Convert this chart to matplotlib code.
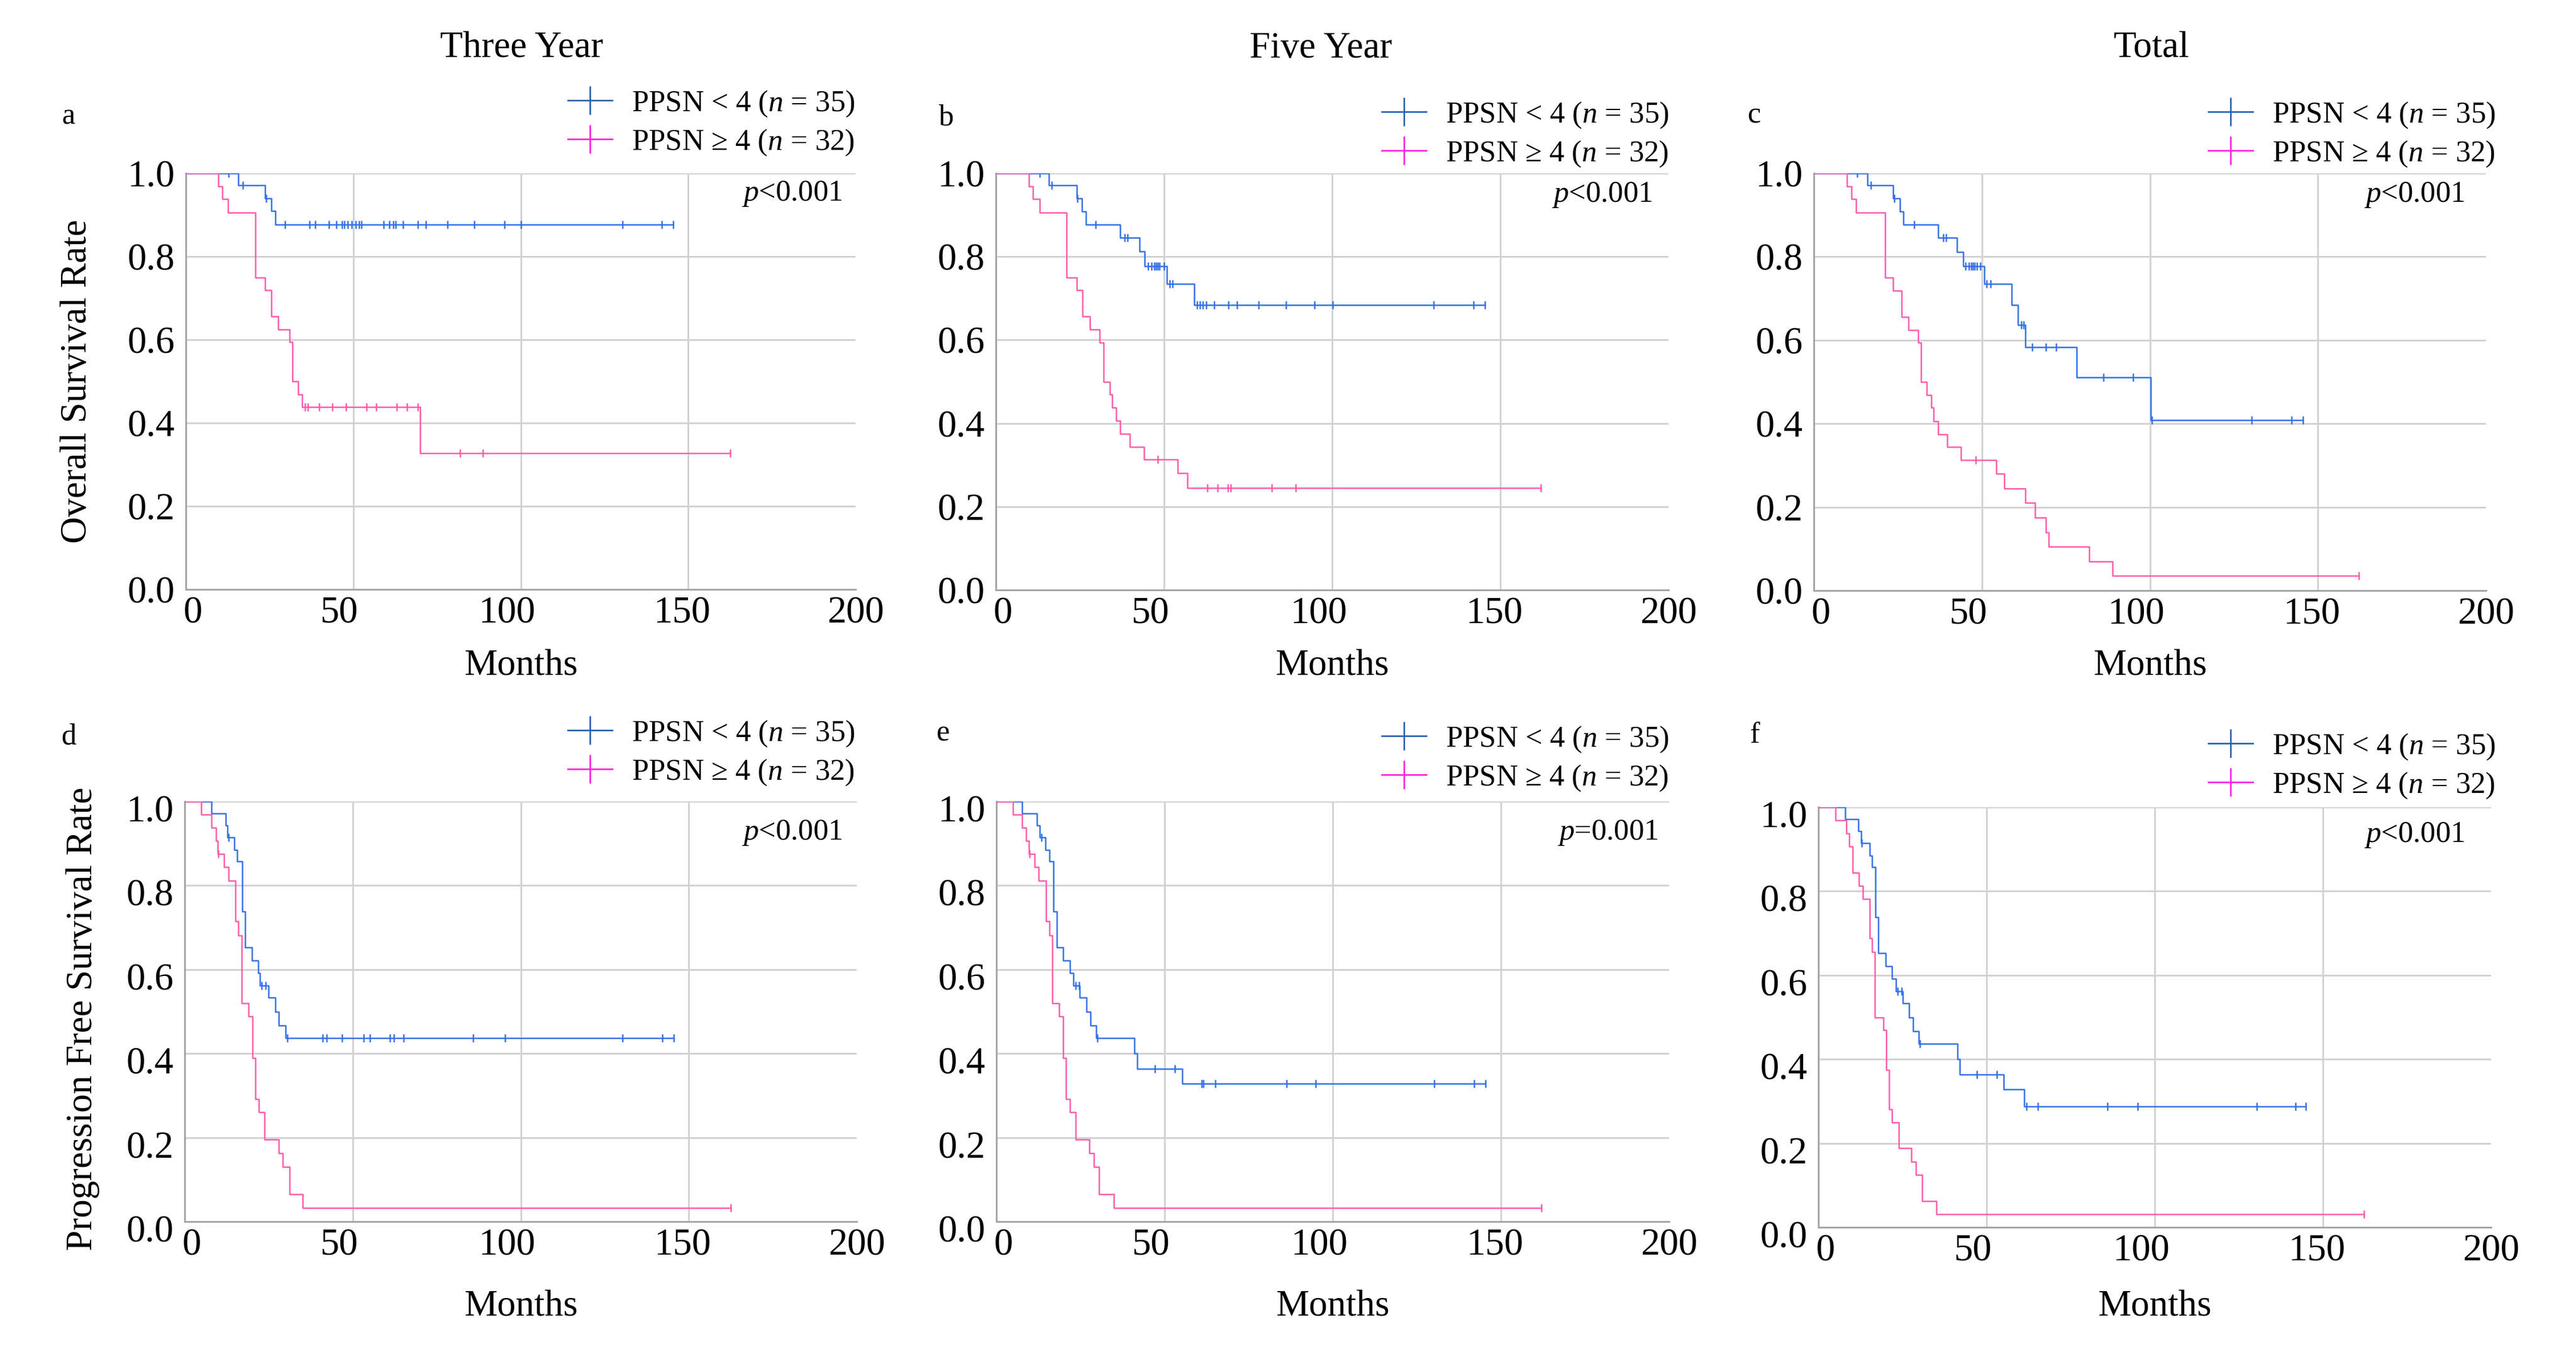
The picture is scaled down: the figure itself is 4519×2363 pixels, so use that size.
import numpy as np
import matplotlib
matplotlib.use("Agg")
import matplotlib.pyplot as plt
import matplotlib.transforms as mtransforms
from matplotlib.lines import Line2D

plt.rcParams["font.family"] = ["Liberation Serif", "DejaVu Serif"]
plt.rcParams["mathtext.fontset"] = "custom"
plt.rcParams["mathtext.it"] = "Liberation Serif:italic"
plt.rcParams["mathtext.rm"] = "Liberation Serif"

# ---- data (months, survival after each drop, censor times)
# a: overall survival, three year
a_lo_t = [15.6, 23.6, 25.5, 26.7]
a_lo_s = [0.971, 0.940, 0.909, 0.877]
a_lo_c = [12.7, 17.0, 24.0, 29.7, 36.9, 38.6, 42.8, 44.9, 46.7, 47.4, 48.3, 49.6, 50.8, 51.8,
          52.5, 59.0, 60.8, 61.9, 62.7, 64.9, 69.2, 71.7, 78.2, 86.2, 95.2, 100.1, 130.3, 142.2, 145.6]
a_hi_t = [9.7, 10.9, 12.6, 20.7, 23.6, 25.5, 27.5, 30.9, 31.8, 33.5, 34.7, 70.0]
a_hi_s = [0.969, 0.938, 0.906, 0.750, 0.719, 0.656, 0.625, 0.594, 0.500, 0.469, 0.438, 0.328]
a_hi_c = [35.5, 36.4, 39.9, 43.7, 47.9, 53.9, 56.9, 62.9, 66.1, 69.2, 81.9, 88.7, 162.6]

# b: overall survival, five year
b_lo_t = [15.8, 24.0, 25.6, 26.7, 37.0, 42.7, 44.3, 50.9, 59.0]
b_lo_s = [0.971, 0.940, 0.909, 0.877, 0.846, 0.812, 0.777, 0.735, 0.684]
b_lo_c = [13.0, 16.6, 24.2, 29.7, 38.3, 39.1, 45.2, 46.3, 47.1, 47.6, 48.1, 48.7, 50.0, 51.7, 52.5,
          59.8, 60.6, 61.6, 62.6, 64.9, 69.1, 71.7, 78.1, 86.2, 94.8, 100.1, 130.2, 142.1, 145.4]
b_hi_t = [9.8, 11.1, 13.0, 21.0, 24.0, 25.8, 28.0, 30.8, 32.1, 33.9, 34.5, 35.7, 37.0, 39.9, 44.0, 54.1, 56.9]
b_hi_s = [0.969, 0.938, 0.906, 0.750, 0.719, 0.656, 0.625, 0.594, 0.500, 0.469, 0.438, 0.406, 0.375,
          0.344, 0.313, 0.280, 0.245]
b_hi_c = [48.1, 62.9, 66.0, 69.0, 69.8, 82.0, 89.2, 162.0]

# c: overall survival, total
c_lo_t = [15.9, 23.6, 25.6, 26.6, 36.9, 42.6, 44.5, 50.7, 58.8, 60.8, 63.0, 78.2, 100.2]
c_lo_s = [0.971, 0.940, 0.909, 0.877, 0.846, 0.812, 0.777, 0.735, 0.684, 0.636, 0.583, 0.511, 0.409]
c_lo_c = [12.9, 17.0, 24.0, 29.9, 38.5, 39.3, 45.1, 46.1, 46.8, 47.3, 47.9, 48.6, 49.6, 51.4, 52.6,
          61.7, 62.5, 65.0, 69.1, 72.1, 86.1, 95.0, 100.6, 130.2, 142.1, 145.5]
c_hi_t = [9.9, 11.2, 12.6, 21.2, 23.6, 26.1, 28.1, 31.1, 31.9, 33.6, 34.9, 35.7, 36.9, 39.7, 43.8,
          54.2, 56.7, 63.0, 65.8, 69.1, 69.9, 82.0, 88.9]
c_hi_s = [0.969, 0.938, 0.906, 0.750, 0.719, 0.656, 0.625, 0.594, 0.500, 0.469, 0.438, 0.406, 0.375,
          0.344, 0.313, 0.280, 0.245, 0.210, 0.175, 0.140, 0.105, 0.070, 0.035]
c_hi_c = [48.1, 162.1]

# d: progression free survival, three year
d_lo_t = [8.0, 12.2, 12.8, 14.7, 15.6, 17.1, 18.0, 20.0, 21.9, 22.4, 24.9, 26.9, 28.0, 30.0]
d_lo_s = [0.971, 0.943, 0.914, 0.885, 0.857, 0.738, 0.652, 0.622, 0.592, 0.562, 0.533, 0.500, 0.467, 0.437]
d_lo_c = [13.1, 22.9, 24.1, 30.5, 41.0, 42.2, 46.9, 53.2, 55.1, 61.0, 62.2, 65.1, 85.9, 95.3,
          130.3, 142.2, 145.6]
d_hi_t = [4.9, 8.0, 9.3, 9.9, 11.7, 13.1, 15.1, 15.9, 16.9, 19.0, 20.2, 21.0, 22.0, 23.7, 28.0, 29.2, 31.2, 35.1]
d_hi_s = [0.969, 0.938, 0.906, 0.875, 0.844, 0.812, 0.715, 0.681, 0.520, 0.488, 0.390, 0.292, 0.260,
          0.195, 0.163, 0.130, 0.065, 0.033]
d_hi_c = [10.0, 162.5]

# e: progression free survival, five year
e_lo_t = [7.7, 12.1, 12.8, 14.5, 15.8, 17.0, 17.9, 19.9, 21.8, 22.8, 24.8, 26.7, 28.0, 29.7, 41.1, 41.9, 55.3]
e_lo_s = [0.971, 0.943, 0.914, 0.885, 0.857, 0.738, 0.652, 0.622, 0.592, 0.562, 0.533, 0.500, 0.467,
          0.437, 0.400, 0.364, 0.328]
e_lo_c = [13.4, 23.5, 24.5, 30.0, 47.1, 53.0, 61.0, 61.6, 65.0, 86.2, 94.9, 130.2, 142.1, 145.4]
e_hi_t = [4.9, 7.7, 8.8, 9.7, 11.4, 12.6, 14.7, 15.8, 16.6, 18.6, 19.9, 20.7, 21.8, 23.6, 27.7, 28.9, 30.5, 34.9]
e_hi_s = [0.969, 0.938, 0.906, 0.875, 0.844, 0.812, 0.715, 0.681, 0.520, 0.488, 0.390, 0.292, 0.260,
          0.195, 0.163, 0.130, 0.065, 0.033]
e_hi_c = [9.8, 162.0]

# f: progression free survival, total
f_lo_t = [7.9, 11.9, 12.7, 15.2, 16.0, 17.0, 17.8, 20.0, 21.9, 23.1, 25.1, 26.9, 28.1, 29.9, 41.3, 42.1, 55.0, 61.2]
f_lo_s = [0.971, 0.943, 0.914, 0.885, 0.857, 0.738, 0.652, 0.622, 0.592, 0.562, 0.533, 0.500, 0.467,
          0.437, 0.400, 0.364, 0.328, 0.287]
f_lo_c = [12.9, 23.6, 24.8, 30.2, 47.2, 53.0, 61.9, 65.2, 86.0, 94.9, 130.4, 141.9, 144.9]
f_hi_t = [5.0, 8.3, 9.1, 10.1, 12.0, 13.2, 15.2, 16.0, 16.8, 19.3, 20.1, 21.0, 21.8, 23.9, 27.7, 28.9, 30.9, 35.1]
f_hi_s = [0.969, 0.938, 0.906, 0.844, 0.813, 0.781, 0.688, 0.656, 0.500, 0.469, 0.375, 0.281, 0.250,
          0.188, 0.156, 0.125, 0.063, 0.031]
f_hi_c = [162.2]

col_titles = ["Three Year", "Five Year", "Total"]
row_ylabels = ["Overall Survival Rate", "Progression Free Survival Rate"]
panel_letters = ["a", "b", "c", "d", "e", "f"]
p_values = ["$p$<0.001", "$p$<0.001", "$p$<0.001", "$p$<0.001", "$p$=0.001", "$p$<0.001"]
group_labels = ["PPSN < 4 ($n$ = 35)", "PPSN \u2265 4 ($n$ = 32)"]
x_ticks = [0, 50, 100, 150, 200]
y_ticks = [0.0, 0.2, 0.4, 0.6, 0.8, 1.0]

curves = [
    (a_lo_t, a_lo_s, a_lo_c, a_hi_t, a_hi_s, a_hi_c),
    (b_lo_t, b_lo_s, b_lo_c, b_hi_t, b_hi_s, b_hi_c),
    (c_lo_t, c_lo_s, c_lo_c, c_hi_t, c_hi_s, c_hi_c),
    (d_lo_t, d_lo_s, d_lo_c, d_hi_t, d_hi_s, d_hi_c),
    (e_lo_t, e_lo_s, e_lo_c, e_hi_t, e_hi_s, e_hi_c),
    (f_lo_t, f_lo_s, f_lo_c, f_hi_t, f_hi_s, f_hi_c),
]

# ---- layout (pixel boxes in the 4519 x 2363 canvas: left, top, right, bottom)
W, H = 4519, 2363
boxes = [
    (326, 304, 1501, 1034), (1747, 304, 2927, 1035), (3182, 304, 4361, 1036),
    (324, 1406, 1503, 2143), (1748, 1406, 2928, 2143), (3190, 1416, 4370, 2153),
]
title_xy = [(915, 85), (2317, 85), (3774, 85)]
letter_xy = [(120, 218), (1659, 220), (3078, 216), (120, 1305), (1655, 1300), (3078, 1303)]
legend_xy = [(1500, 216), (2928, 236), (4378, 236), (1500, 1321), (2928, 1331), (4378, 1344)]
pval_xy = [(1478, 340), (2899, 342), (4324, 342), (1478, 1461), (2909, 1461), (4324, 1465)]
ylabel_x = [135, 145]
xlabel_y = [1169, 2293]
xtick_shift = [12, -24, -24, -11, 0]  # px, labels sit a bit off their gridlines

BLUE = "#3370E6"
PINK = "#FF5AA8"
LEG_BLUE = "#2B62B0"
LEG_PINK = "#FF22E6"
GRID = "#d2d2d2"
SPINE = "#a4a4a4"

fig = plt.figure(figsize=(W / 100, H / 100), dpi=100)


def km(ax, t, s, c, color):
    t = np.asarray(t)
    s = np.asarray(s)
    c = np.asarray(c)
    end = max(c.max(), t.max())
    xs = np.concatenate([[0.0], t, [end]])
    ys = np.concatenate([[1.0], s, [s[-1]]])
    ax.step(xs, ys, where="post", color=color, lw=1.8, zorder=3)
    levels = np.concatenate([[1.0], s])
    cy = levels[np.searchsorted(t, c, side="right")]
    ax.plot(c, cy, ls="none", marker="|", ms=10, mew=1.8, color=color, zorder=4)


for i, (box, data) in enumerate(zip(boxes, curves)):
    l, t_, r, b = box
    ax = fig.add_axes([l / W, 1 - b / H, (r - l) / W, (b - t_) / H])
    row, col = divmod(i, 3)

    km(ax, data[0], data[1], data[2], BLUE)
    km(ax, data[3], data[4], data[5], PINK)

    ax.set_xlim(0, 200)
    ax.set_ylim(0, 1.0)
    ax.set_xticks(x_ticks)
    ax.set_yticks(y_ticks)
    ax.set_yticklabels([f"{v:.1f}" for v in y_ticks])
    ax.tick_params(length=0, labelsize=48, colors="black")
    ax.tick_params(axis="x", pad=8)
    ax.tick_params(axis="y", pad=14)
    ax.grid(True, color=GRID, lw=2.2, zorder=0)
    ax.set_axisbelow(True)
    ax.get_xgridlines()[-1].set_visible(False)
    ax.get_ygridlines()[0].set_visible(False)
    for side in ["top", "right"]:
        ax.spines[side].set_visible(False)
    for side in ["left", "bottom"]:
        ax.spines[side].set_color(SPINE)
        ax.spines[side].set_linewidth(2.2)

    for lab, dx in zip(ax.get_xticklabels(), xtick_shift):
        lab.set_transform(lab.get_transform() + mtransforms.ScaledTranslation(dx / 100, 0, fig.dpi_scale_trans))
    if row == 1:
        for lab in ax.get_yticklabels():
            lab.set_transform(lab.get_transform() + mtransforms.ScaledTranslation(0, -0.12, fig.dpi_scale_trans))

    ax.set_xlabel("Months", fontsize=47)
    ax.xaxis.label.set_va("center")
    ax.xaxis.set_label_coords(0.5, -(xlabel_y[row] - b) / (b - t_))

    if col == 0:
        fig.text(ylabel_x[row] / W, 1 - ((t_ + b) / 2 + 13 * row) / H, row_ylabels[row],
                 rotation=90, ha="center", va="center", fontsize=47)
    if row == 0:
        fig.text(title_xy[col][0] / W, 1 - title_xy[col][1] / H, col_titles[col],
                 ha="center", va="center", fontsize=47)

    fig.text(letter_xy[i][0] / W, 1 - letter_xy[i][1] / H, panel_letters[i],
             ha="center", va="baseline", fontsize=38)
    fig.text(pval_xy[i][0] / W, 1 - pval_xy[i][1] / H, p_values[i],
             ha="right", va="center", fontsize=38)

    handles = [
        Line2D([], [], color=LEG_BLUE, lw=2, marker="|", ms=36, mew=2),
        Line2D([], [], color=LEG_PINK, lw=2, marker="|", ms=36, mew=2),
    ]
    ax.legend(handles, group_labels, loc="center right",
              bbox_to_anchor=(legend_xy[i][0] / W, 1 - legend_xy[i][1] / H),
              bbox_transform=fig.transFigure, frameon=False, fontsize=38,
              borderpad=0, borderaxespad=0, handlelength=1.48, handletextpad=0.64,
              labelspacing=0.31, numpoints=1)

fig.savefig("out.png", dpi=100, facecolor="white")
